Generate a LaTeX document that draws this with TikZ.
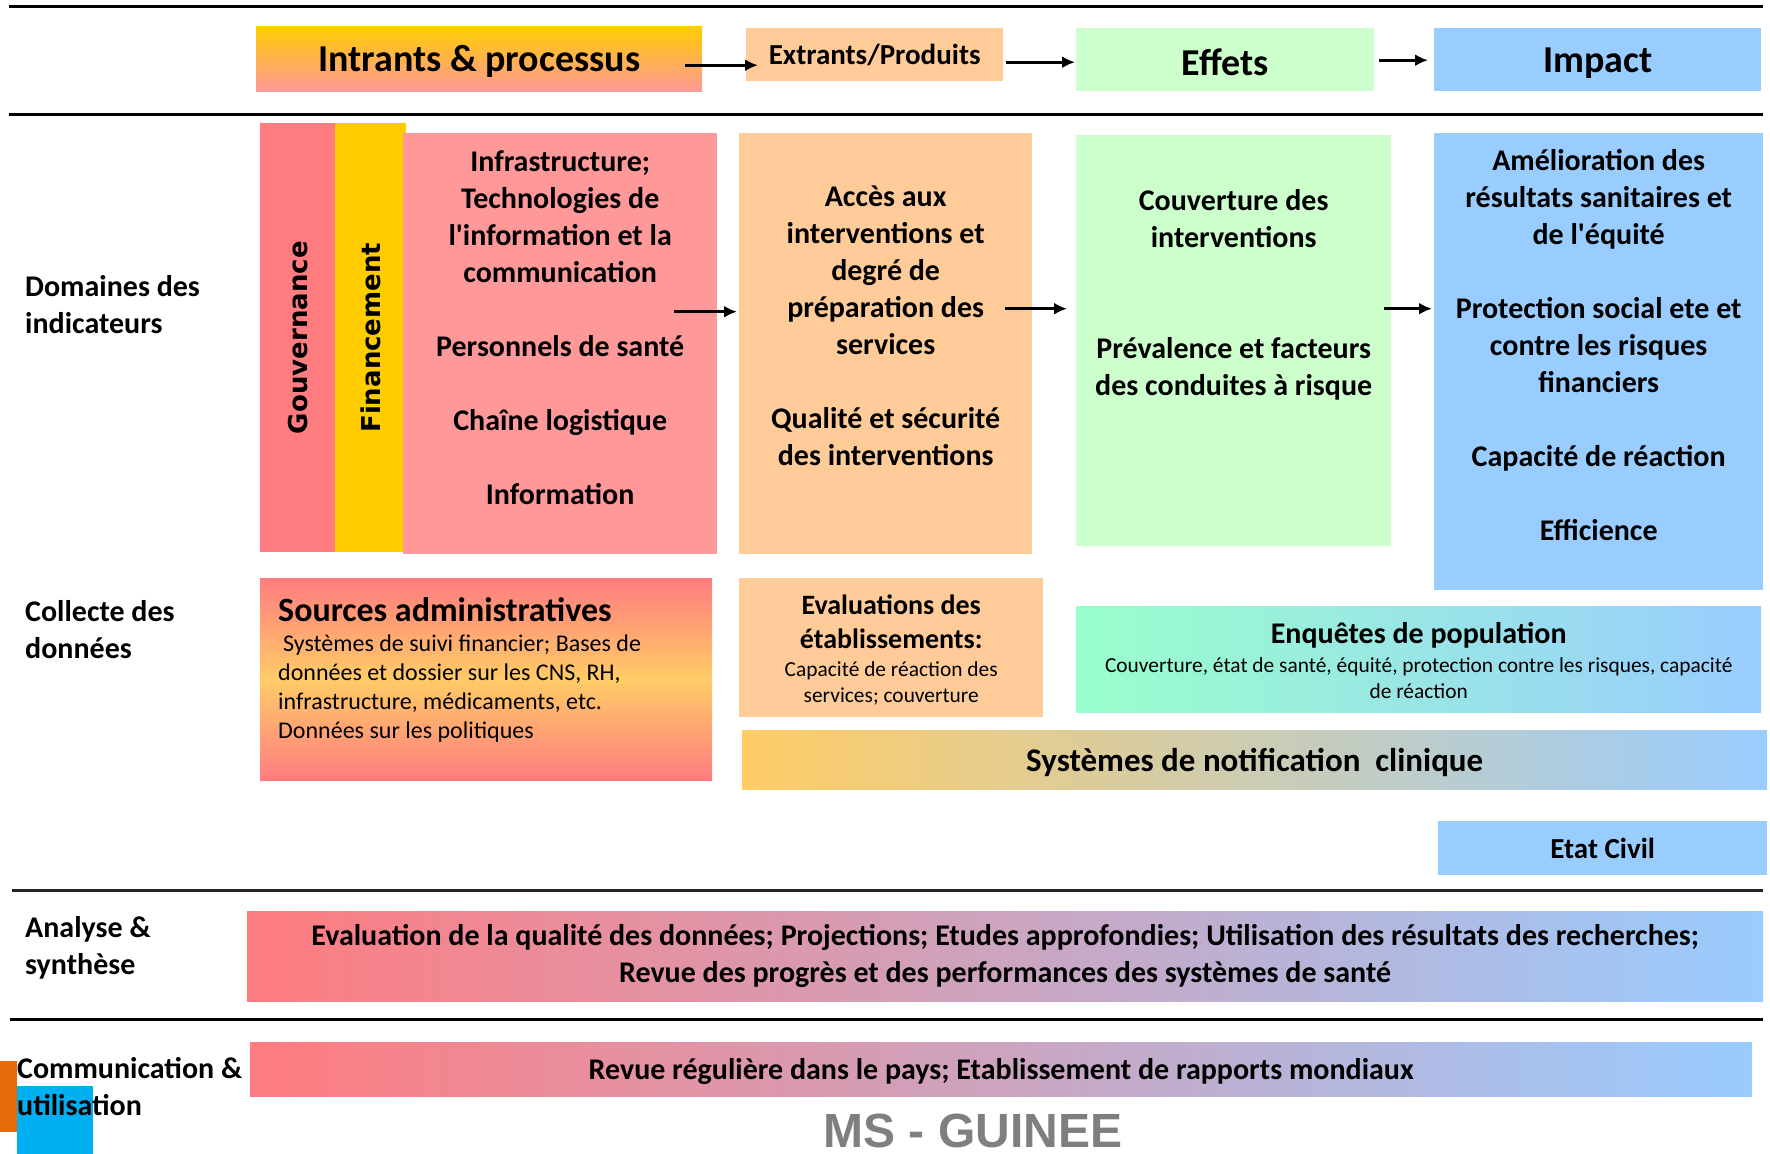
\documentclass[tikz,border=0pt]{standalone}
\usepackage{fontspec}
\setmainfont{Carlito}
\newfontfamily\barfont{DejaVu Sans}
\newfontfamily\brandfont{Liberation Sans}
\usetikzlibrary{
    arrows.meta,
    positioning
}

\definecolor{rosebar}{HTML}{FF7C80}
\definecolor{goldbar}{HTML}{FFCC00}
\definecolor{rosebox}{HTML}{FF9999}
\definecolor{peach}{HTML}{FFCC99}
\definecolor{mint}{HTML}{CCFFCC}
\definecolor{sky}{HTML}{99CCFF}
\definecolor{aqua}{HTML}{99FFCC}
\definecolor{apricot}{HTML}{FFCC66}
\definecolor{rust}{HTML}{E46C0A}
\definecolor{cyanbox}{HTML}{00B0F0}
\definecolor{brandgray}{HTML}{7F7F7F}

\newcommand{\fsz}[2]{\fontsize{#1}{#2}\selectfont}

\begin{document}
\begin{tikzpicture}[
    x=1pt, y=-1pt,
    % coloured blocks
    box/.style={
        anchor=north west,
        inner sep=0pt,
        align=center,
        font=\bfseries\fsz{30}{37}
    },
    txt/.style={
        inner sep=0pt,
        align=center,
        font=\bfseries\fsz{30}{37}
    },
    side/.style={
        anchor=west,
        inner sep=0pt,
        align=left,
        font=\bfseries\fsz{30}{37}
    },
    small/.style={
        inner sep=0pt,
        align=center,
        font=\fsz{21.4}{26}
    },
    vert/.style={
        rotate=90,
        inner sep=0pt,
        font=\barfont\bfseries\fsz{26}{30}
    },
    flow/.style={
        -{Latex[length=13pt,width=12pt]},
        line width=3pt
    },
    rule/.style={
        line width=3pt
    }
]
    \useasboundingbox (0,0) rectangle (1770,1154);

    % Separating rules
    \draw[rule] (9,6) -- (1763,6);
    \draw[rule] (9,114) -- (1763,114);
    \draw[rule, black!85] (12,890) -- (1763,890);
    \draw[rule] (10,1019) -- (1763,1019);

    % Chain headers
    \node[box, minimum width=446pt, minimum height=65pt, top color=goldbar, bottom color=rosebox,
          text depth=0pt, font=\bfseries\fsz{38}{44}] (intrants) at (256,26) {Intrants \& processus};
    \node[box, minimum width=257pt, minimum height=53pt, fill=peach,
          font=\bfseries\fsz{29}{34}] (extrants) at (746,28) {Extrants/Produits};
    \node[box, minimum width=298pt, minimum height=63pt, fill=mint, text height=31pt,
          font=\bfseries\fsz{38}{44}] (effets) at (1076,28) {Effets};
    \node[box, minimum width=327pt, minimum height=63pt, fill=sky,
          text depth=0pt, font=\bfseries\fsz{38}{44}] (impact) at (1434,28) {Impact};

    \draw[flow] ([xshift=-17pt,yshift=-6.5pt]intrants.east) -- ([xshift=12pt,yshift=-10.5pt]extrants.west);
    \draw[flow] ([xshift=3pt,yshift=-7.5pt]extrants.east) -- ([xshift=-1pt,yshift=-2.5pt]effets.west);
    \draw[flow] ([xshift=5pt,yshift=-0.5pt]effets.east) -- ([xshift=-6pt,yshift=-0.5pt]impact.west);

    % Row labels
    \node[side] (dom-lbl) at (25,305) {Domaines des\\indicateurs};
    \node[side] (col-lbl) at (25,630) {Collecte des\\données};
    \node[side] (ana-lbl) at (25,948) {Analyse \&\\synthèse};
    \fill[rust] (0,1061) rectangle (17,1132);
    \fill[cyanbox] (17,1086) rectangle (93,1154);
    \node[side] (com-lbl) at (17,1087) {Communication \&\\utilisation};

    % Indicator domains
    \node[box, minimum width=75pt, minimum height=429pt, fill=rosebar] (gouv) at (260,123) {};
    \node[vert] (gouv-txt) at (gouv.center) {Gouvernance};
    \node[box, minimum width=71pt, minimum height=429pt, fill=goldbar] (fin) at (335,123) {};
    \node[vert] (fin-txt) at (fin.center) {Financement};

    \node[box, minimum width=314pt, minimum height=421pt, fill=rosebox] (dom-in) at (403,133) {};
    \node[txt, below=17pt of dom-in.north] (dom-in-txt)
        {Infrastructure;\\Technologies de\\l\textquotesingle information et la\\communication\\[37pt]Personnels de santé\\[37pt]Chaîne logistique\\[37pt]Information};

    \node[box, minimum width=293pt, minimum height=421pt, fill=peach] (dom-out) at (739,133) {};
    \node[txt, below=53pt of dom-out.north] (dom-out-txt)
        {Accès aux\\interventions et\\degré de\\préparation des\\services\\[37pt]Qualité et sécurité\\des interventions};

    \node[box, minimum width=315pt, minimum height=411pt, fill=mint] (dom-eff) at (1076,135) {};
    \node[txt, below=54pt of dom-eff.north] (dom-eff-txt)
        {Couverture des\\interventions\\[74pt]Prévalence et facteurs\\des conduites à risque};

    \node[box, minimum width=329pt, minimum height=457pt, fill=sky] (dom-imp) at (1434,133) {};
    \node[txt, below=16pt of dom-imp.north] (dom-imp-txt)
        {Amélioration des\\résultats sanitaires et\\de l\textquotesingle équité\\[37pt]Protection social ete et\\contre les risques\\financiers\\[37pt]Capacité de réaction\\[37pt]Efficience};

    \draw[flow] ([xshift=-43pt,yshift=32pt]dom-in.east) -- ([xshift=-2pt,yshift=32pt]dom-out.west);
    \draw[flow] ([xshift=-27pt,yshift=35pt]dom-out.east) -- ([xshift=-9pt,yshift=32pt]dom-eff.west);
    \draw[flow] ([xshift=-7pt,yshift=32pt]dom-eff.east) -- ([xshift=-2pt,yshift=53pt]dom-imp.west);

    % Data collection
    \node[box, minimum width=452pt, minimum height=202pt, top color=rosebar, bottom color=rosebar,
          middle color=apricot] (src) at (260,578) {};
    \node[anchor=west, inner sep=0pt, font=\bfseries\fsz{34}{40}] (src-title) at (278,610) {Sources administratives};
    \node[anchor=north west, inner sep=0pt, align=left, font=\fsz{24}{29}] (src-body) at (278,635)
        {\hspace{5pt}Systèmes de suivi financier; Bases de\\données et dossier sur les CNS, RH,\\infrastructure, médicaments, etc.\\Données sur les politiques};

    \node[box, minimum width=304pt, minimum height=139pt, fill=peach] (eval) at (739,578) {};
    \node[txt, font=\bfseries\fsz{28}{34}, below=17pt of eval.north] (eval-title) {Evaluations des\\établissements:};
    \node[small, below=12pt of eval-title] (eval-body) {Capacité de réaction des\\services; couverture};

    \node[box, minimum width=685pt, minimum height=106pt, left color=aqua, right color=sky] (enq) at (1076,606) {};
    \node[txt, below=16pt of enq.north] (enq-title) {Enquêtes de population};
    \node[small, below=9pt of enq-title] (enq-body)
        {Couverture, état de santé, équité, protection contre les risques, capacité\\de réaction};

    \node[box, minimum width=1025pt, minimum height=59pt, left color=apricot, right color=sky,
          text depth=0pt, font=\bfseries\fsz{33}{40}] (notif) at (742,730) {Systèmes de notification\ \ clinique};
    \node[box, minimum width=329pt, minimum height=54pt, fill=sky,
          font=\bfseries\fsz{29}{35}] (civil) at (1438,821) {Etat Civil};

    % Analysis and use
    \node[box, minimum width=1516pt, minimum height=90pt, left color=rosebar, right color=sky] (ana) at (247,911)
        {Evaluation de la qualité des données; Projections; Etudes approfondies; Utilisation des résultats des recherches;\\Revue des progrès et des performances des systèmes de santé};
    \node[box, minimum width=1502pt, minimum height=54pt, left color=rosebar, right color=sky,
          text depth=0pt] (com) at (250,1042)
        {Revue régulière dans le pays; Etablissement de rapports mondiaux};

    \node[anchor=base, inner sep=0pt, text=brandgray, font=\brandfont\bfseries\fsz{48}{56}] (brand) at (973,1147) {MS - GUINEE};
\end{tikzpicture}
\end{document}
